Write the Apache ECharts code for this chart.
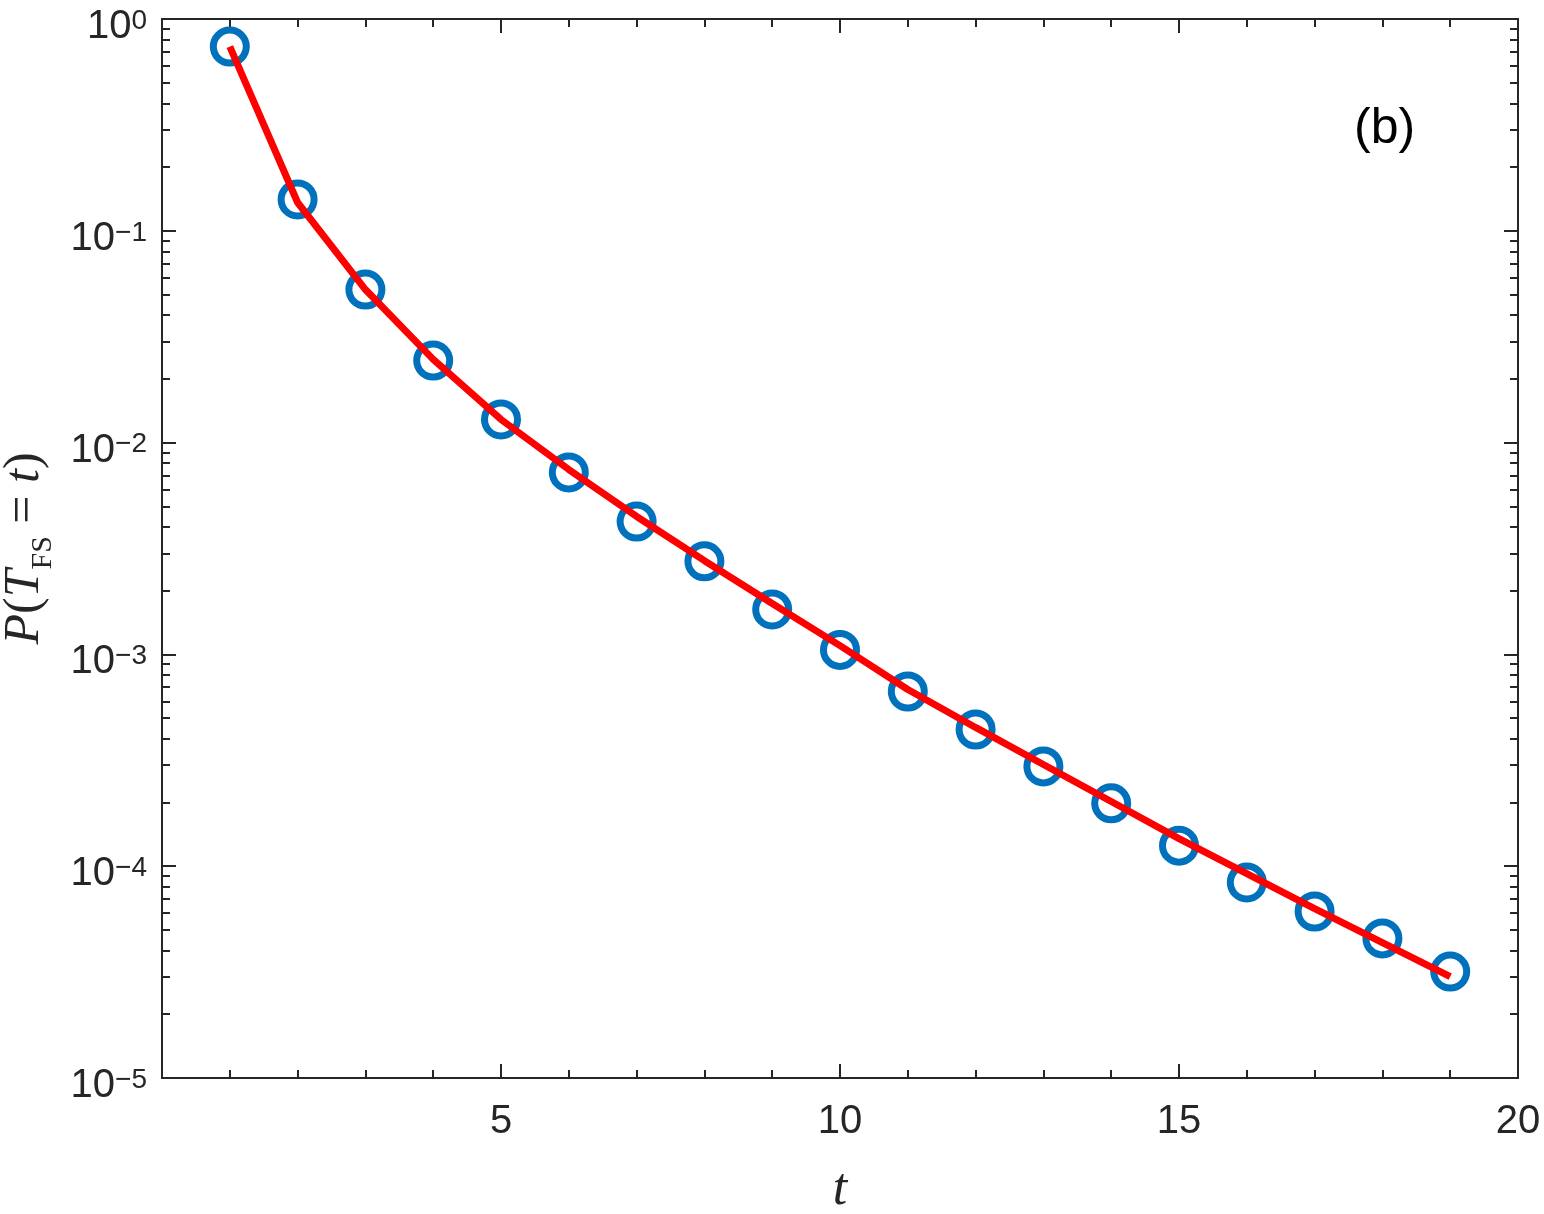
<!DOCTYPE html>
<html>
<head>
<meta charset="utf-8">
<script src="https://cdn.jsdelivr.net/npm/echarts@6/dist/echarts.min.js"></script>
<style>
  html, body { margin: 0; padding: 0; background: #fff; }
  #chart { width: 1544px; height: 1214px; }
</style>
</head>
<body>
<div id="chart"></div>
<script>
// time steps
const tList = [1, 2, 3, 4, 5, 6, 7, 8, 9, 10, 11, 12, 13, 14, 15, 16, 17, 18, 19];
// simulated points (blue circles)
const simValues = [0.741, 0.1406, 0.0528, 0.0244, 0.01286, 0.00723, 0.00424, 0.00275, 0.00163, 0.00105,
  0.000668, 0.000442, 0.000296, 0.000198, 0.000125, 0.0000838, 0.0000611, 0.0000456, 0.0000318];
// theory curve (red line)
const theoryValues = [0.741, 0.136, 0.0528, 0.0247, 0.01286, 0.00746, 0.00448, 0.00277, 0.00174, 0.00110,
  0.000683, 0.000452, 0.000302, 0.000202, 0.000135, 0.0000923, 0.0000631, 0.0000436, 0.0000301];
// y tick values
const yMajorTicks = [1e-5, 1e-4, 1e-3, 1e-2, 1e-1, 1];
const yMinorTicks = [];
for (let e = -5; e < 0; e++) {
  for (let m = 2; m <= 9; m++) yMinorTicks.push(m * Math.pow(10, e));
}

const axisColor = '#262626';
const labelFont = "'Liberation Sans', Arial, Helvetica, sans-serif";
const mathFont = "'Liberation Serif', 'Times New Roman', serif";

const myChart = echarts.init(document.getElementById('chart'));

const baseX = {
  type: 'value',
  min: 0,
  max: 20,
  interval: 5,
  axisLine: { show: true, lineStyle: { color: axisColor, width: 2 } },
  axisTick: { show: true, inside: true, length: 14, lineStyle: { color: axisColor, width: 2 } },
  minorTick: { show: true, splitNumber: 5, length: 8, lineStyle: { color: axisColor, width: 2 } },
  splitLine: { show: false },
  minorSplitLine: { show: false }
};

const baseY = (pos, ticks, len, showLabel) => ({
  type: 'log',
  logBase: 10,
  min: 1e-5,
  max: 1,
  position: pos,
  axisLine: { show: true, onZero: false, lineStyle: { color: axisColor, width: 2 } },
  axisTick: { show: true, inside: true, length: len, customValues: ticks, lineStyle: { color: axisColor, width: 2 } },
  axisLabel: showLabel ? {
    show: true,
    customValues: yMajorTicks,
    margin: 15,
    padding: [16, 0, 0, 0],
    formatter: (v) => {
      const e = Math.round(Math.log10(v));
      return '{b|10}{s|' + (e === 0 ? '0' : '\u2212' + (-e)) + '}';
    },
    rich: {
      b: { fontFamily: labelFont, fontSize: 40, lineHeight: 40, verticalAlign: 'bottom', color: axisColor },
      s: { fontFamily: labelFont, fontSize: 28, lineHeight: 28, verticalAlign: 'top', color: axisColor }
    }
  } : { show: false },
  splitLine: { show: false }
});

const option = {
  animation: false,
  backgroundColor: '#fff',
  grid: { left: 162, right: 26, top: 19, bottom: 136, containLabel: false, outerBoundsMode: 'none' },
  xAxis: [
    Object.assign({}, baseX, {
      position: 'bottom',
      name: 't',
      nameLocation: 'middle',
      nameGap: 86,
      nameTextStyle: { fontFamily: mathFont, fontStyle: 'italic', fontSize: 52, color: axisColor },
      axisLabel: {
        show: true,
        margin: 24,
        fontFamily: labelFont,
        fontSize: 40,
        color: axisColor,
        formatter: (v) => (v === 0 ? '' : String(v))
      }
    }),
    Object.assign({}, baseX, { position: 'top', axisLabel: { show: false } })
  ],
  yAxis: [
    Object.assign(baseY('left', yMajorTicks, 14, true), {
      name: '{i|P}{n|(}{i|T}{sub|FS}{n| = }{i|t}{n|)}',
      nameLocation: 'middle',
      nameRotate: 90,
      nameGap: 104,
      nameTextStyle: {
        rich: {
          i: { fontFamily: mathFont, fontStyle: 'italic', fontSize: 50, lineHeight: 58, verticalAlign: 'top', color: axisColor },
          n: { fontFamily: mathFont, fontSize: 50, lineHeight: 58, verticalAlign: 'top', color: axisColor },
          sub: { fontFamily: mathFont, fontSize: 30, lineHeight: 30, verticalAlign: 'bottom', color: axisColor }
        }
      }
    }),
    baseY('left', yMinorTicks, 8, false),
    baseY('right', yMajorTicks, 14, false),
    baseY('right', yMinorTicks, 8, false)
  ],
  graphic: [
    {
      type: 'text',
      left: 1354,
      top: 104,
      style: { text: '(b)', fontFamily: labelFont, fontSize: 50, fill: '#000' }
    }
  ],
  series: [
    {
      name: 'simulation',
      type: 'scatter',
      xAxisIndex: 0,
      yAxisIndex: 0,
      symbol: 'circle',
      symbolSize: 33,
      itemStyle: { color: 'rgba(0,0,0,0)', borderColor: '#0072BD', borderWidth: 7, opacity: 1 },
      data: tList.map((t, i) => [t, simValues[i]]),
      z: 2
    },
    {
      name: 'theory',
      type: 'line',
      xAxisIndex: 0,
      yAxisIndex: 0,
      showSymbol: false,
      symbol: 'none',
      lineStyle: { color: '#FF0000', width: 7 },
      data: tList.map((t, i) => [t, theoryValues[i]]),
      z: 3
    }
  ]
};

option && myChart.setOption(option);
</script>
</body>
</html>
